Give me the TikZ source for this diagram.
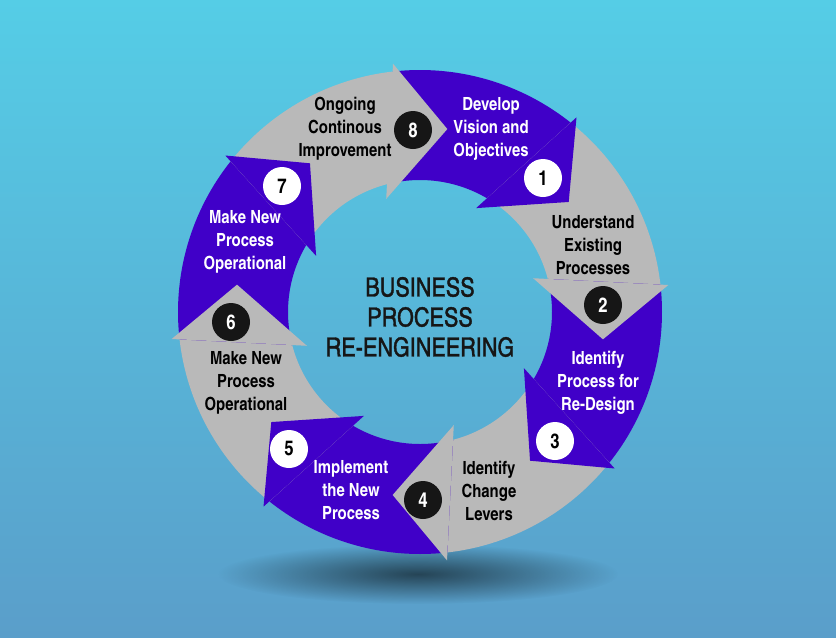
\documentclass[tikz,border=0pt]{standalone}
\usepackage{fontspec}
\setmainfont{texgyreheroscn}[Extension=.otf,UprightFont=*-regular,BoldFont=*-bold]
\newfontfamily\titlefont{texgyreheroscn-regular.otf}[FakeBold=1.3]
\usepackage{xcolor}
\usepackage{tikz}
\usetikzlibrary{calc,fadings}
\definecolor{bgtop}{RGB}{85,205,230}
\definecolor{bgbottom}{RGB}{90,158,202}
\definecolor{arrowpurple}{RGB}{64,0,200}
\definecolor{arrowgray}{RGB}{185,185,185}
\definecolor{numblack}{RGB}{22,22,22}
\tikzfading[name=shadowfade,inner color=transparent!42,outer color=transparent!100]

\begin{document}
\begin{tikzpicture}[x=0.3mm,y=-0.3mm,
  purplearrow/.style={fill=arrowpurple},
  grayarrow/.style={fill=arrowgray},
  darknum/.style={circle,fill=numblack,text=white,minimum size=11.4mm,inner sep=0pt,font=\fontsize{17.5}{18}\selectfont\bfseries},
  lightnum/.style={circle,fill=white,text=black,minimum size=11.4mm,inner sep=0pt,font=\fontsize{17.5}{18}\selectfont\bfseries},
  darklabel/.style={align=center,text=black,inner sep=0pt,font=\fontsize{15.5}{19.6}\selectfont\bfseries},
  lightlabel/.style={align=center,text=white,inner sep=0pt,font=\fontsize{15.5}{19.6}\selectfont\bfseries}]
\useasboundingbox (0,0) rectangle (836,637);
\shade[top color=bgtop,bottom color=bgbottom] (0,0) rectangle (836,637);
\fill[black,path fading=shadowfade] (418,574) ellipse (200 and 30);

\begin{scope}[shift={(420,312)}]
\fill[purplearrow] (-96.5:242) arc[start angle=-96.5,end angle=-50.5,radius=242] -- (-58.5:132) arc[start angle=-58.5,end angle=-104.5,radius=132] -- cycle;
\fill[grayarrow] (-51.5:242) arc[start angle=-51.5,end angle=-5.5,radius=242] -- (-13.5:132) arc[start angle=-13.5,end angle=-59.5,radius=132] -- cycle;
\fill[purplearrow] (-6.5:242) arc[start angle=-6.5,end angle=39.5,radius=242] -- (31.5:132) arc[start angle=31.5,end angle=-14.5,radius=132] -- cycle;
\fill[grayarrow] (38.5:242) arc[start angle=38.5,end angle=84.5,radius=242] -- (76.5:132) arc[start angle=76.5,end angle=30.5,radius=132] -- cycle;
\fill[purplearrow] (83.5:242) arc[start angle=83.5,end angle=129.5,radius=242] -- (121.5:132) arc[start angle=121.5,end angle=75.5,radius=132] -- cycle;
\fill[grayarrow] (128.5:242) arc[start angle=128.5,end angle=174.5,radius=242] -- (166.5:132) arc[start angle=166.5,end angle=120.5,radius=132] -- cycle;
\fill[purplearrow] (173.5:242) arc[start angle=173.5,end angle=219.5,radius=242] -- (211.5:132) arc[start angle=211.5,end angle=165.5,radius=132] -- cycle;
\fill[grayarrow] (218.5:242) arc[start angle=218.5,end angle=264.5,radius=242] -- (256.5:132) arc[start angle=256.5,end angle=210.5,radius=132] -- cycle;

\fill[purplearrow] ($(-51.5:242)!-0.07!(-59.5:132)$) -- (-36.5:185) -- ($(-59.5:132)!-0.13!(-51.5:242)$) -- cycle;
\fill[grayarrow] ($(-6.5:242)!-0.07!(-14.5:132)$) -- (8.5:185) -- ($(-14.5:132)!-0.13!(-6.5:242)$) -- cycle;
\fill[purplearrow] ($(38.5:242)!-0.07!(30.5:132)$) -- (53.5:185) -- ($(30.5:132)!-0.13!(38.5:242)$) -- cycle;
\fill[grayarrow] ($(83.5:242)!-0.07!(75.5:132)$) -- (98.5:185) -- ($(75.5:132)!-0.13!(83.5:242)$) -- cycle;
\fill[purplearrow] ($(128.5:242)!-0.07!(120.5:132)$) -- (143.5:185) -- ($(120.5:132)!-0.13!(128.5:242)$) -- cycle;
\fill[grayarrow] ($(173.5:242)!-0.07!(165.5:132)$) -- (188.5:185) -- ($(165.5:132)!-0.13!(173.5:242)$) -- cycle;
\fill[purplearrow] ($(218.5:242)!-0.07!(210.5:132)$) -- (233.5:185) -- ($(210.5:132)!-0.13!(218.5:242)$) -- cycle;
\fill[grayarrow] ($(263.5:242)!-0.07!(255.5:132)$) -- (278.5:185) -- ($(255.5:132)!-0.13!(263.5:242)$) -- cycle;
\end{scope}

\node[lightnum] (n1) at (543,178) {1};
\node[darknum] (n2) at (603,305) {2};
\node[lightnum] (n3) at (555,441) {3};
\node[darknum] (n4) at (423,500) {4};
\node[lightnum] (n5) at (289,449) {5};
\node[darknum] (n6) at (231,322) {6};
\node[lightnum] (n7) at (282,186) {7};
\node[darknum] (n8) at (413,130) {8};

\node[lightlabel] (t1) at (491,129) {Develop\\Vision and\\Objectives};
\node[darklabel] (t2) at (593,245) {Understand\\Existing\\Processes};
\node[lightlabel] (t3) at (598,383) {Identify\\Process for\\Re-Design};
\node[darklabel] (t4) at (489,491) {Identify\\Change\\Levers};
\node[lightlabel] (t5) at (351,490) {Implement\\the New\\Process};
\node[darklabel] (t6) at (246,383) {Make New\\Process\\Operational};
\node[lightlabel] (t7) at (245,242) {Make New\\Process\\Operational};
\node[darklabel] (t8) at (345,129) {Ongoing\\Continous\\Improvement};

\node[align=center,text=numblack,inner sep=0pt,font=\titlefont\fontsize{22.5}{25.6}\selectfont] (title) at (420,317) {BUSINESS\\PROCESS\\RE-ENGINEERING};
\end{tikzpicture}
\end{document}
